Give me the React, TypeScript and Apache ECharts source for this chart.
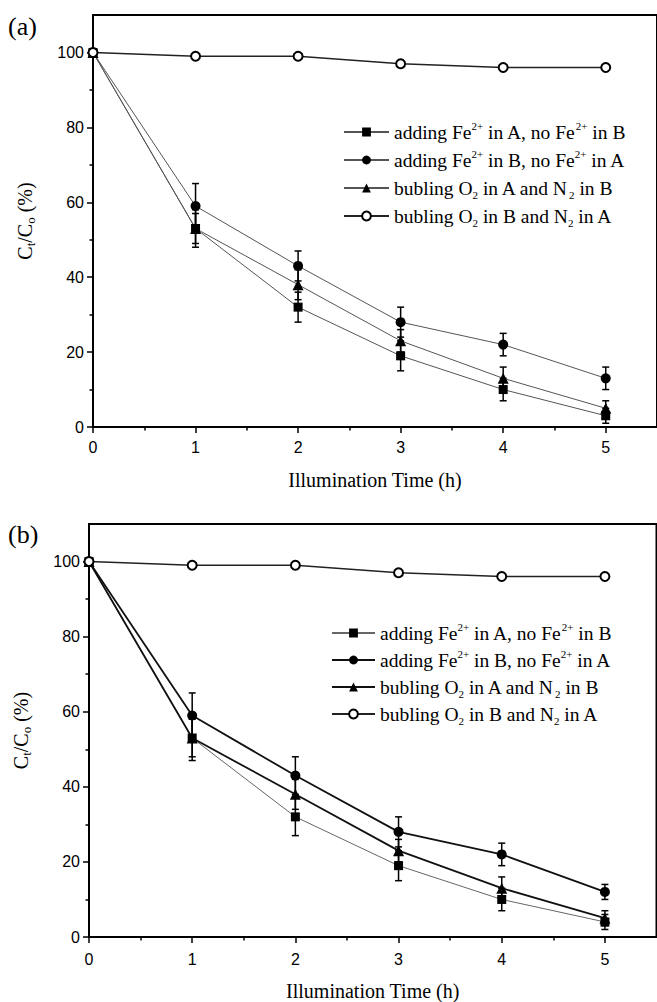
import React, { useEffect, useRef } from "react";
import * as echarts from "echarts";

const X = [0, 1, 2, 3, 4, 5];
const xTickLabels = [0, 1, 2, 3, 4, 5];
const xMinorTicks = [0.5, 1.5, 2.5, 3.5, 4.5];
const yTickLabels = [0, 20, 40, 60, 80, 100];
const yMinorTicks = [10, 30, 50, 70, 90];

// Panel (a)
const aSquare = [100, 53, 32, 19, 10, 3];
const aSquareErr = [0, 5, 4, 4, 3, 2];
const aCircle = [100, 59, 43, 28, 22, 13];
const aCircleErr = [0, 6, 4, 4, 3, 3];
const aTriangle = [100, 53, 38, 23, 13, 5];
const aTriangleErr = [0, 4, 4, 3, 3, 2];
const aOpen = [100, 99, 99, 97, 96, 96];

// Panel (b)
const bSquare = [100, 53, 32, 19, 10, 4];
const bSquareErr = [0, 6, 5, 4, 3, 2];
const bCircle = [100, 59, 43, 28, 22, 12];
const bCircleErr = [0, 6, 5, 4, 3, 2];
const bTriangle = [100, 53, 38, 23, 13, 5];
const bTriangleErr = [0, 5, 4, 3, 3, 2];
const bOpen = [100, 99, 99, 97, 96, 96];

const legendRich = [
  "adding Fe{sup|2+} in A, no Fe{sup|2+} in B",
  "adding Fe{sup|2+} in B, no Fe{sup|2+} in A",
  "bubling O{sub|2} in A and N{sub|2} in B",
  "bubling O{sub|2} in B and N{sub|2} in A",
];
const namesA = ["sqA", "ciA", "trA", "opA"];
const namesB = ["sqB", "ciB", "trB", "opB"];

const SERIF = '"Liberation Serif", "Times New Roman", serif';
const SANS = '"Liberation Sans", Arial, sans-serif';

function pts(ys: number[]) {
  return X.map((x, i) => [x, ys[i]]);
}
function bars(ys: number[], es: number[]) {
  return X.map((x, i) => [x, ys[i] - es[i], ys[i] + es[i], es[i]]).filter((d) => d[3] > 0);
}

export default function App() {
  const ref = useRef<HTMLDivElement>(null);
  useEffect(() => {
    if (!ref.current) return;
    const chart = echarts.init(ref.current, null, { renderer: "svg" });

    const errRender = (params: any, api: any) => {
      const x = api.value(0);
      const lo = api.value(1);
      const hi = api.value(2);
      const p1 = api.coord([x, lo]);
      const p2 = api.coord([x, hi]);
      const w = 3.5;
      const st = { stroke: "#000", lineWidth: 1.5 };
      return {
        type: "group",
        children: [
          { type: "line", shape: { x1: p1[0], y1: p1[1], x2: p2[0], y2: p2[1] }, style: st },
          { type: "line", shape: { x1: p1[0] - w, y1: p1[1], x2: p1[0] + w, y2: p1[1] }, style: st },
          { type: "line", shape: { x1: p2[0] - w, y1: p2[1], x2: p2[0] + w, y2: p2[1] }, style: st },
        ],
      };
    };

    const labelStyle = { fontSize: 16, fontFamily: SANS, color: "#000" };
    const tickStyle = { color: "#000", width: 1.5 };

    const makeX = (g: number, margin: number, nameGap: number) => [
      {
        gridIndex: g,
        type: "value",
        min: 0,
        max: 5.5,
        interval: 1,
        position: "bottom",
        axisLine: { show: true, onZero: false, lineStyle: { color: "#000", width: 2 } },
        axisTick: { show: true, length: 6, lineStyle: tickStyle, customValues: xTickLabels },
        axisLabel: { ...labelStyle, margin, customValues: xTickLabels },
        splitLine: { show: false },
        name: "Illumination Time (h)",
        nameLocation: "middle",
        nameGap,
        nameTextStyle: { fontFamily: SERIF, fontSize: 20, color: "#000" },
      },
      {
        gridIndex: g,
        type: "value",
        min: 0,
        max: 5.5,
        interval: 0.5,
        position: "bottom",
        axisLine: { show: false, onZero: false },
        axisTick: { show: true, length: 3.5, lineStyle: tickStyle, customValues: xMinorTicks },
        axisLabel: { show: false },
        splitLine: { show: false },
      },
    ];
    const makeY = (g: number) => [
      {
        gridIndex: g,
        type: "value",
        min: 0,
        max: 110,
        interval: 20,
        position: "left",
        axisLine: { show: true, onZero: false, lineStyle: { color: "#000", width: 2 } },
        axisTick: { show: true, length: 6, lineStyle: tickStyle, customValues: yTickLabels },
        axisLabel: { ...labelStyle, margin: 9, customValues: yTickLabels },
        splitLine: { show: false },
        name: "C{sub|t}/C{sub|o} (%)",
        nameLocation: "middle",
        nameRotate: 90,
        nameGap: 56,
        nameTextStyle: {
          fontFamily: SERIF,
          fontSize: 20,
          color: "#000",
          lineHeight: 24,
          rich: { sub: { fontFamily: SERIF, fontSize: 13, verticalAlign: "bottom", lineHeight: 12 } },
        },
      },
      {
        gridIndex: g,
        type: "value",
        min: 0,
        max: 110,
        interval: 10,
        position: "left",
        axisLine: { show: false, onZero: false },
        axisTick: { show: true, length: 3.5, lineStyle: tickStyle, customValues: yMinorTicks },
        axisLabel: { show: false },
        splitLine: { show: false },
      },
    ];

    const lineSeries = (
      name: string,
      data: number[],
      g: number,
      symbol: string,
      size: number,
      lineColor: string,
      lineWidth: number
    ) => ({
      name,
      type: "line",
      xAxisIndex: g * 2,
      yAxisIndex: g * 2,
      data: pts(data),
      symbol,
      symbolSize: size,
      showAllSymbol: true,
      z: 3,
      lineStyle: { color: lineColor, width: lineWidth },
      itemStyle: { color: "#000", borderColor: "#000", borderWidth: symbol === "emptyCircle" ? 1.3 : 0 },
      emphasis: { disabled: true },
    });
    const errSeries = (ys: number[], es: number[], g: number) => ({
      type: "custom",
      xAxisIndex: g * 2,
      yAxisIndex: g * 2,
      renderItem: errRender,
      data: bars(ys, es),
      encode: { x: 0, y: [1, 2] },
      z: 2,
      silent: true,
    });

    const legendFormatter = (names: string[]) => (n: string) => legendRich[names.indexOf(n)];
    const legendText = {
      fontFamily: SERIF,
      fontSize: 19.5,
      color: "#000",
      lineHeight: 24,
      rich: {
        sup: { fontFamily: SERIF, fontSize: 11, verticalAlign: "top", lineHeight: 10 },
        sub: { fontFamily: SERIF, fontSize: 11, verticalAlign: "bottom", lineHeight: 10 },
      },
    };

    chart.setOption({
      animation: false,
      backgroundColor: "#fff",
      grid: [
        { left: 93, top: 15, width: 566.5, height: 412, show: true, borderColor: "#000", borderWidth: 2, backgroundColor: "transparent" },
        { left: 89, top: 524, width: 567.5, height: 415, show: true, borderColor: "#000", borderWidth: 2, backgroundColor: "transparent" },
      ],
      xAxis: [...makeX(0, 12, 43), ...makeX(1, 14, 44)],
      yAxis: [...makeY(0), ...makeY(1)],
      legend: [
        {
          data: namesA,
          orient: "vertical",
          left: 343,
          top: 120,
          padding: 0,
          itemWidth: 45,
          itemHeight: 11,
          itemGap: 4,
          selectedMode: false,
          formatter: legendFormatter(namesA),
          textStyle: legendText,
        },
        {
          data: namesB,
          orient: "vertical",
          left: 331,
          top: 621,
          padding: 0,
          itemWidth: 43,
          itemHeight: 11,
          itemGap: 3,
          selectedMode: false,
          formatter: legendFormatter(namesB),
          textStyle: legendText,
        },
      ],
      graphic: [
        { type: "text", left: 8, top: 13, style: { text: "(a)", font: `26px ${SERIF}`, fill: "#000" } },
        { type: "text", left: 8, top: 521, style: { text: "(b)", font: `26px ${SERIF}`, fill: "#000" } },
      ],
      series: [
        lineSeries("sqA", aSquare, 0, "rect", 9, "#555", 1),
        lineSeries("ciA", aCircle, 0, "circle", 10, "#555", 1),
        lineSeries("trA", aTriangle, 0, "triangle", 11, "#555", 1),
        lineSeries("opA", aOpen, 0, "emptyCircle", 9, "#222", 1.5),
        errSeries(aSquare, aSquareErr, 0),
        errSeries(aCircle, aCircleErr, 0),
        errSeries(aTriangle, aTriangleErr, 0),
        lineSeries("sqB", bSquare, 1, "rect", 9, "#666", 1),
        lineSeries("ciB", bCircle, 1, "circle", 10, "#111", 1.8),
        lineSeries("trB", bTriangle, 1, "triangle", 11, "#111", 1.8),
        lineSeries("opB", bOpen, 1, "emptyCircle", 9, "#222", 1.5),
        errSeries(bSquare, bSquareErr, 1),
        errSeries(bCircle, bCircleErr, 1),
        errSeries(bTriangle, bTriangleErr, 1),
      ],
    });
    return () => chart.dispose();
  }, []);
  return (
    <div
      ref={ref}
      style={{ position: "absolute", left: 0, top: 0, width: 657, height: 1002, background: "#fff" }}
    />
  );
}
